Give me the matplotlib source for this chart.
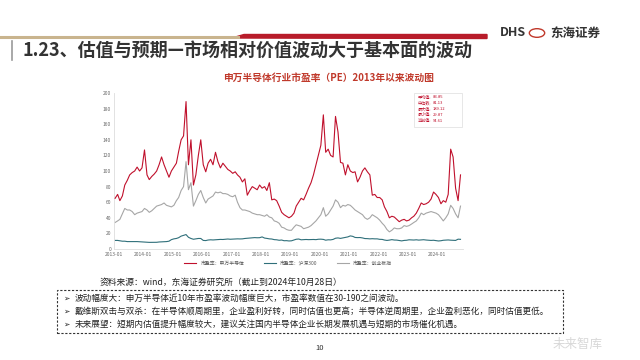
import matplotlib
matplotlib.use("Agg")
import matplotlib.pyplot as plt
import matplotlib.patches as mpatches
from matplotlib.lines import Line2D
import pandas as pd

plt.rcParams['font.family'] = ['Noto Sans CJK SC', 'DejaVu Sans']

# ---------------- data (monthly, 2013-01 .. 2024-10) ----------------
dates = pd.date_range("2013-01-01", "2024-10-01", freq="MS") + pd.Timedelta(days=14)

pe_semi = [
    65, 70, 62, 68, 82, 88, 95, 98, 100, 105, 100, 104,
    127, 95, 89, 93, 96, 100, 108, 118, 108, 100, 92, 100,
    105, 110, 125, 140, 145, 189, 108, 140, 82, 95, 120, 140,
    108, 99, 110, 115, 108, 124, 112, 104, 110, 106, 102, 100,
    97, 99, 95, 92, 86, 90, 69, 75, 80, 78, 76, 82,
    78, 80, 75, 85, 63, 64, 62, 55, 47, 44, 42, 40,
    42, 46, 55, 60, 65, 63, 70, 78, 85, 95, 108, 120,
    133, 172, 124, 128, 120, 118, 170, 150, 111, 110, 95, 108,
    100, 98, 99, 86, 92, 100, 104, 99, 95, 69, 70, 66,
    66, 63, 54, 48, 40, 42, 41, 38, 35, 37, 38, 36,
    37, 40, 42, 46, 52, 59, 57, 58, 60, 64, 73, 70,
    66, 58, 62, 60, 70, 128, 118, 78, 62, 95,
]
pe_grey = [
    34, 36, 38, 45, 52, 50, 50, 48, 44, 46, 47, 48,
    52, 50, 47, 49, 52, 55, 56, 57, 59, 56, 55, 54,
    56, 62, 66, 75, 80, 112, 76, 85, 55, 62, 70, 75,
    66, 59, 64, 66, 68, 73, 72, 73, 71, 71, 70, 68,
    67, 69, 60, 53, 50, 50, 49, 48, 46, 45, 44, 44,
    43, 42, 44, 41, 40, 36, 35, 33, 28, 27, 25, 24,
    24, 28, 31, 30, 29, 26, 27, 28, 30, 33, 36, 40,
    44, 53, 42, 45, 50, 55, 63, 60, 53, 56, 55, 57,
    56, 53, 50, 48, 46, 44, 40, 38, 40, 44, 42, 40,
    37, 33, 30, 25, 22, 24, 27, 26, 26, 27, 30, 29,
    30, 32, 34, 36, 40, 46, 44, 46, 47, 48, 47, 46,
    44, 40, 36, 40, 45, 56, 52, 45, 40, 55,
]
pe_hs300 = [
    11, 11, 10.5, 10, 10, 9.5, 9.5, 9.5, 9.5, 9.5, 9.3, 9,
    9, 8.8, 8.5, 8.5, 8.5, 8.6, 9, 9.2, 9.5, 9.5, 10, 12,
    13, 13.5, 14.5, 16.5, 17.5, 18.5, 15, 13.5, 12.5, 13, 13.5, 13.5,
    11, 10.8, 11.5, 11.8, 11.6, 11.8, 12, 12.3, 12.2, 12.5, 12.8, 12.5,
    12.7, 12.8, 13, 12.9, 13, 13.5, 13.8, 14, 14.3, 14.6, 14.4, 14.5,
    15.5, 14, 13.6, 13, 12.8, 12, 11.8, 11.2, 11.5, 10.6, 10.7, 10.3,
    10.5, 11.5, 12.5, 12.8, 11.8, 12, 12.2, 12, 12.1, 12.2, 12, 12.5,
    12.6, 12.3, 11.3, 11.8, 11.7, 12.3, 13.8, 14.2, 13.6, 14.2, 14.8, 15.5,
    16.8, 16.2, 14.8, 14.6, 14.7, 14.2, 13.4, 13.3, 13, 13.2, 13, 13,
    12.4, 12.3, 11.5, 11, 11.4, 12, 11.5, 11.4, 10.9, 10.4, 11, 11.2,
    11.8, 11.6, 11.5, 11.8, 11.4, 11.6, 11.9, 11.5, 11.3, 11, 11.2, 10.8,
    10.3, 10.6, 11.2, 11.4, 11.6, 11.3, 11.2, 11, 12.6, 12.4,
]
series_names = ["市盈率：申万半导体", "市盈率：沪深300", "市盈率：创业板指"]
xtick_labels = [f"{y}-01" for y in range(2013, 2025)]
yticks = list(range(0, 201, 20))
stat_labels = ["平均值:", "中位数:", "最大值:", "最小值:", "当前值:"]
stat_values = ["83.85", "81.13", "189.12", "29.87", "94.61"]

bullets = [
    "波动幅度大：申万半导体近10年市盈率波动幅度巨大，市盈率数值在30-190之间波动。",
    "戴维斯双击与双杀：在半导体顺周期里，企业盈利好转，同时估值也更高；半导体逆周期里，企业盈利恶化，同时估值更低。",
    "未来展望：短期内估值提升幅度较大，建议关注国内半导体企业长期发展机遇与短期的市场催化机遇。",
]

# ---------------- figure ----------------
W, H = 640, 360
fig = plt.figure(figsize=(6.4, 3.6), dpi=100)
fig.patch.set_facecolor("white")

def fx(px):
    return px / W

def fy(py):
    return 1 - py / H

# header bar
fig.add_artist(Line2D([fx(0), fx(238)], [fy(36.5), fy(36.5)], color="#c9b48e", lw=2.2))
fig.add_artist(mpatches.Polygon([[fx(232), fy(38)], [fx(244), fy(34.5)], [fx(487), fy(34.5)], [fx(487), fy(38.5)]],
                                closed=True, color="#b81c2a", transform=fig.transFigure))
fig.add_artist(Line2D([fx(12), fx(12)], [fy(41), fy(60)], color="#9a9a9a", lw=1.2))
fig.text(fx(22), fy(50), "1.23、估值与预期—市场相对价值波动大于基本面的波动", fontsize=13,
         fontweight="bold", color="#333333", va="center", ha="left")
fig.text(fx(500), fy(33), "DHS", fontsize=9, fontweight="bold", color="#333333", va="center", ha="left")
fig.add_artist(mpatches.Circle((fx(537), fy(33)), 0.012, transform=fig.transFigure,
                               facecolor="none", edgecolor="#c0392b", lw=1.0))
fig.text(fx(550), fy(33), "东海证券", fontsize=9, fontweight="bold", color="#333333", va="center", ha="left")

fig.text(fx(328), fy(78), "申万半导体行业市盈率（PE）2013年以来波动图", fontsize=7,
         fontweight="bold", color="#c0392b", ha="center", va="center")

# chart axes
ax = fig.add_axes([fx(114), fy(249), fx(463) - fx(114), (249 - 93) / H])
ax.plot(dates, pe_grey, color="#a6a6a6", lw=0.8, zorder=2)
ax.plot(dates, pe_semi, color="#c0102c", lw=0.8, zorder=3)
ax.plot(dates, pe_hs300, color="#2f6f7a", lw=0.8, zorder=2)
ax.set_ylim(0, 200)
ax.set_xlim(pd.Timestamp("2013-01-01"), pd.Timestamp("2024-11-15"))
ax.set_yticks(yticks)
ax.set_yticklabels([str(v) for v in yticks])
xt = [pd.Timestamp(s + "-01") for s in xtick_labels]
ax.set_xticks(xt)
ax.set_xticklabels(xtick_labels)
ax.tick_params(axis="both", labelsize=3.5, colors="#666666", length=0, pad=2)
for s in ["top", "right"]:
    ax.spines[s].set_visible(False)
for s in ["bottom", "left"]:
    ax.spines[s].set_color("#dddddd")
    ax.spines[s].set_linewidth(0.6)
ax.set_facecolor("none")

handles = [Line2D([], [], color="#c0102c", lw=0.8),
           Line2D([], [], color="#2f6f7a", lw=0.8),
           Line2D([], [], color="#a6a6a6", lw=0.8)]
fig.legend(handles, series_names, loc="center", bbox_to_anchor=(fx(288), fy(263)), ncol=3,
           fontsize=3.5, frameon=False, handlelength=2.5, columnspacing=4, labelcolor="#555555")

# stats box
fig.add_artist(mpatches.Rectangle((fx(414), fy(127)), fx(48), (127 - 93) / H, transform=fig.transFigure,
                                  facecolor="white", edgecolor="#dddddd", lw=0.5, zorder=5))
for i, (lab, val) in enumerate(zip(stat_labels, stat_values)):
    yy = 97.5 + i * 5.8
    fig.text(fx(418), fy(yy), lab, fontsize=3, color="#c0102c", va="center", ha="left", zorder=6)
    fig.text(fx(433), fy(yy), val, fontsize=3, color="#c0102c", va="center", ha="left", zorder=6)

# source
fig.text(fx(100), fy(283), "资料来源：wind，东海证券研究所（截止到2024年10月28日）", fontsize=6.3,
         color="#222222", va="center", ha="left")

# dashed box
fig.add_artist(mpatches.Rectangle((fx(57), fy(333)), fx(563 - 57), (333 - 290) / H,
                                  transform=fig.transFigure, facecolor="none", edgecolor="#333333",
                                  lw=0.8, linestyle=(0, (2, 1.5))))
for i, b in enumerate(bullets):
    yy = 298 + i * 13
    fig.text(fx(63), fy(yy), "➢", fontsize=5.5, color="#222222", va="center", ha="left",
             family=['DejaVu Sans'])
    fig.text(fx(75), fy(yy), b, fontsize=6.2, color="#222222", va="center", ha="left")

fig.text(fx(320), fy(348), "10", fontsize=5.5, color="#333333", ha="center", va="center")
fig.text(fx(578), fy(344), "未来智库", fontsize=9, color="#d8d8d8", ha="center", va="center")

fig.savefig("out.png", dpi=100)
